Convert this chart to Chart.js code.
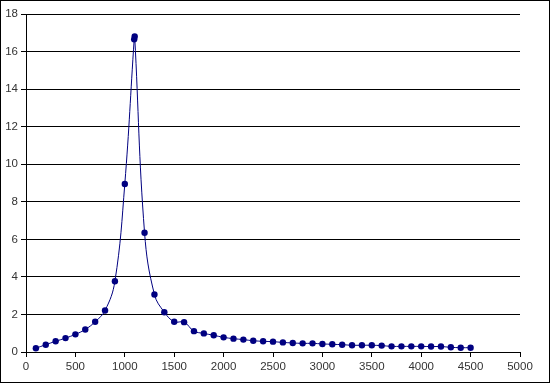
<!DOCTYPE html>
<html>
<head>
<meta charset="utf-8">
<script src="https://cdn.jsdelivr.net/npm/chart.js@4/dist/chart.umd.min.js"></script>
<style>
  html, body { margin: 0; padding: 0; background: #fff; }
  #wrap { width: 550px; height: 383px; position: relative; }
</style>
</head>
<body>
<div id="wrap"><canvas id="chart" width="550" height="383"></canvas></div>
<script>
'use strict';

// frequency-like x values and measured y values
const xValues = [100, 200, 300, 400, 500, 600, 700, 800, 900, 1000,
  1095, 1100, 1200, 1300, 1400, 1500, 1600, 1700, 1800, 1900, 2000,
  2100, 2200, 2300, 2400, 2500, 2600, 2700, 2800, 2900, 3000,
  3100, 3200, 3300, 3400, 3500, 3600, 3700, 3800, 3900, 4000,
  4100, 4200, 4300, 4400, 4500];
const yValues = [0.2, 0.39, 0.57, 0.74, 0.94, 1.2, 1.61, 2.21, 3.77, 8.95,
  16.65, 16.8, 6.35, 3.06, 2.12, 1.61, 1.59, 1.11, 0.99, 0.89, 0.78,
  0.71, 0.66, 0.6, 0.57, 0.55, 0.51, 0.48, 0.46, 0.46, 0.43,
  0.41, 0.39, 0.36, 0.36, 0.36, 0.34, 0.3, 0.3, 0.3, 0.3,
  0.29, 0.29, 0.25, 0.23, 0.23];

const X_MIN = 0, X_MAX = 5000, X_STEP = 500;
const Y_MIN = 0, Y_MAX = 18, Y_STEP = 2;

const LINE_COLOR = '#000080';
const FONT = { family: 'Liberation Sans, Arial, sans-serif', size: 11.5 };

const frameBorder = {
  id: 'frameBorder',
  afterDraw(chart) {
    const ctx = chart.ctx;
    ctx.save();
    ctx.strokeStyle = '#000';
    ctx.lineWidth = 1;
    ctx.strokeRect(0.5, 0.5, chart.width - 1, chart.height - 1);
    ctx.restore();
  }
};

const points = xValues.map((x, i) => ({ x, y: yValues[i] }));

new Chart(document.getElementById('chart'), {
  type: 'scatter',
  data: {
    datasets: [{
      data: points,
      showLine: true,
      borderColor: LINE_COLOR,
      backgroundColor: LINE_COLOR,
      borderWidth: 1,
      tension: 0.4,
      pointRadius: 3.2,
      pointStyle: 'circle',
      pointBorderWidth: 0,
      clip: false,
    }]
  },
  options: {
    responsive: false,
    animation: false,
    devicePixelRatio: 1,
    layout: { padding: { top: 14, right: 30, left: 0, bottom: 0 } },
    plugins: { legend: { display: false }, tooltip: { enabled: false } },
    scales: {
      x: {
        type: 'linear',
        min: X_MIN, max: X_MAX,
        afterFit: s => { s.height = 31; },
        grid: { drawOnChartArea: false, drawTicks: true, tickLength: 5, color: '#000' },
        border: { display: true, color: '#000' },
        ticks: {
          stepSize: X_STEP,
          color: '#333',
          padding: 3,
          font: FONT,
          maxRotation: 0,
          callback: v => String(v),
        },
      },
      y: {
        min: Y_MIN, max: Y_MAX,
        afterFit: s => { s.width = 26; },
        grid: { color: '#000', tickLength: 5, drawTicks: true },
        border: { display: true, color: '#000' },
        ticks: {
          stepSize: Y_STEP,
          color: '#333',
          padding: 3,
          font: FONT,
          callback: v => String(v),
        },
      },
    },
  },
  plugins: [frameBorder],
});
</script>
</body>
</html>
